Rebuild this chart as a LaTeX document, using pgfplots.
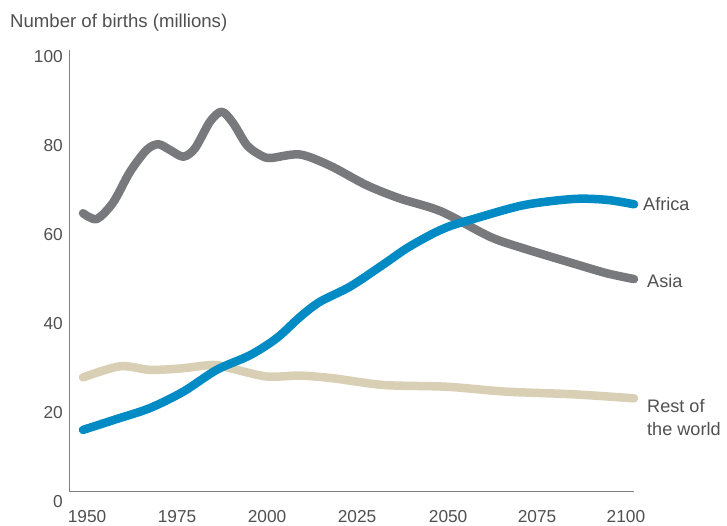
\documentclass[border=0pt]{standalone}
\usepackage{pgfplots}
\pgfplotsset{compat=1.18}
\usepackage{fontspec}
\setmainfont{Liberation Sans}
\definecolor{asiagray}{RGB}{120,121,124}
\definecolor{africablue}{RGB}{0,139,196}
\definecolor{restbeige}{RGB}{217,207,181}
\definecolor{axisgray}{RGB}{128,128,128}
\definecolor{txt}{RGB}{80,80,80}
\begin{document}
\begin{tikzpicture}
\useasboundingbox (0pt,0pt) rectangle (727pt,-525pt);
\node[anchor=base west, text=txt, font=\fontsize{18.6}{21}\selectfont, inner sep=0] at (10pt,-27pt) {Number of births (millions)};
\draw[axisgray, line width=1pt] (69pt,-50pt) -- (69pt,-491pt) -- (634pt,-491pt);
\begin{axis}[
  at={(83pt,-502pt)}, anchor=south west,
  scale only axis, width=551pt, height=445pt,
  xmin=1950, xmax=2100, ymin=0, ymax=100,
  clip=false,
  axis line style={draw=none},
  major tick length=0pt,
  xtick={1951.1,1975.6,2000.1,2024.6,2049.4,2073.6,2097.8},
  xticklabels={1950,1975,2000,2025,2050,2075,2100},
  ytick={0,20,40,60,80,100},
  /pgf/number format/assume math mode=true,
  ticklabel style={font=\fontsize{17.3}{20}\selectfont, text=txt, inner sep=0pt},
  xticklabel style={anchor=base, yshift=-20pt},
  yticklabel style={anchor=east, xshift=-20pt},
  every axis plot/.append style={line cap=round, line join=round, line width=8.5pt, smooth},
]
\addplot[restbeige] coordinates {
(1950,28.0) (1960.1,30.5) (1968.2,29.7) (1976.4,30.0) (1985.5,30.8) (1990.9,29.9)
(2000,28.2) (2009.1,28.4) (2018.1,27.8) (2031.8,26.3) (2049,25.9) (2065.3,24.8) (2083.5,24.2) (2100,23.3)
};
\addplot[asiagray] coordinates {
(1950,64.9) (1953.7,63.6) (1958.2,67.3) (1962.8,74.2) (1967.3,79.1) (1970.5,80.4)
(1973.7,79.1) (1977.3,77.6) (1980.5,79.5) (1984.6,85.5) (1987.8,87.7) (1990.9,85.1)
(1994.6,80.2) (1998.2,78.0) (2001,77.3) (2009,78.1) (2017.2,75.6)
(2027.2,71.2) (2036.3,68.2) (2047.5,65.3) (2060.8,59.6) (2069.9,57.0) (2083.5,53.6)
(2092.6,51.4) (2100,50.1)
};
\addplot[africablue] coordinates {
(1950,16.2) (1959,18.6) (1968.2,21.1) (1977.3,24.8) (1986.4,29.7) (1995.5,33.0)
(2002.7,36.8) (2009.1,41.6) (2014.5,45.0) (2022.7,48.4) (2031.8,53.4) (2038.1,57.0)
(2045,60.2) (2049.9,62.0) (2056.3,63.6) (2069.9,66.7) (2083.5,68.1) (2092.6,67.9) (2100,66.9)
};
\end{axis}
\begin{scope}[every node/.style={anchor=base west, text=txt, font=\fontsize{18.1}{20}\selectfont, inner sep=0}]
\node at (643pt,-210pt) {Africa};
\node at (647pt,-287pt) {Asia};
\node at (647pt,-412pt) {Rest of};
\node at (647pt,-435pt) {the world};
\end{scope}
\end{tikzpicture}
\end{document}
